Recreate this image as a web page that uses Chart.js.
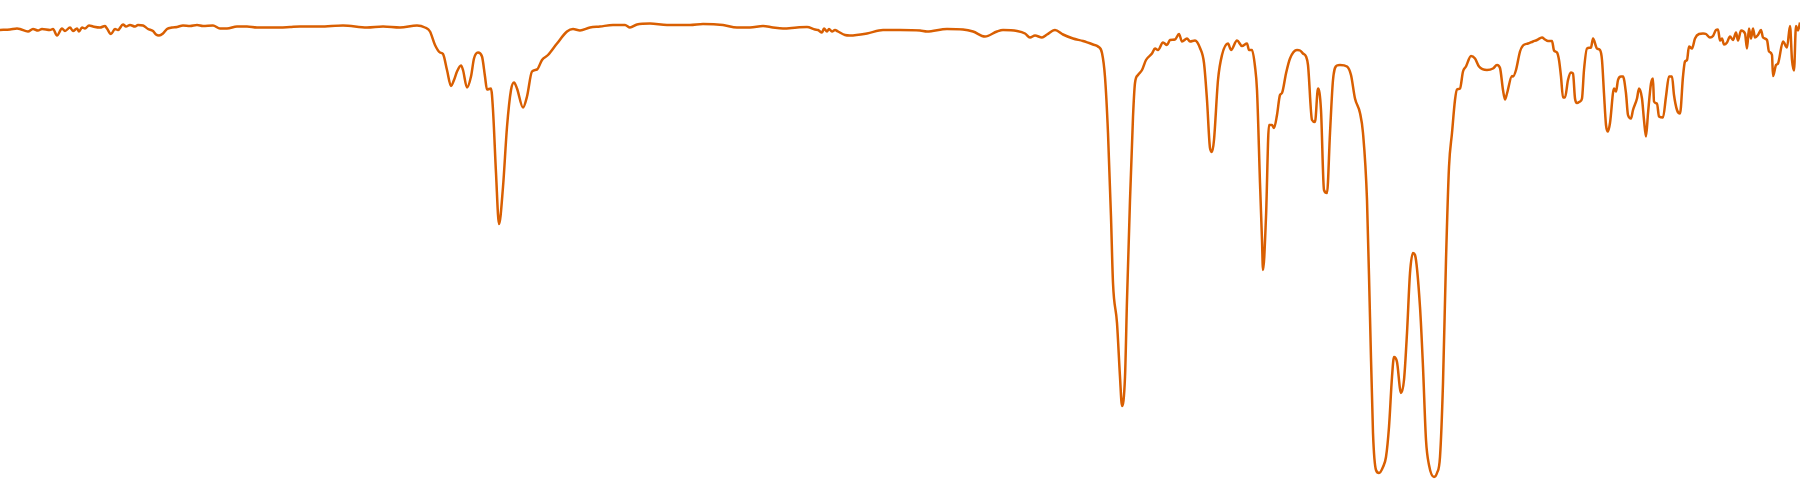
<!DOCTYPE html>
<html>
<head>
<meta charset="utf-8">
<script src="https://cdn.jsdelivr.net/npm/chart.js@4/dist/chart.umd.min.js"></script>
<style>
  html, body { margin: 0; padding: 0; background: #ffffff; }
  #wrap { width: 1800px; height: 500px; position: relative; }
</style>
</head>
<body>
<div id="wrap"><canvas id="c"></canvas></div>
<script>
// Wavenumber (cm-1), left to right
const wavenumbers = [
  4000,3980,3966,3960,3944,3934,3924,3916,3900,3894,3886,3876,3870,3860,3854,3846,3842,3836,3830,3822,
  3814,3800,3790,3786,3778,3770,3764,3754,3748,3740,3730,3724,3714,3704,3694,3688,3682,3674,3666,3656,
  3646,3634,3620,3606,3594,3574,3560,3546,3526,3506,3486,3466,3440,3420,3400,
  3360,3314,3266,3234,3200,3166,3150,3140,3130,3120,3114,3106,3098,3092,3086,3078,3074,3066,3058,3052,
  3044,3036,3030,3026,3018,3014,3008,3002,2994,2986,2978,2972,2966,2954,2946,2936,2926,2916,2904,2886,
  2866,2854,2840,2820,2800,
  2774,2750,2740,2726,2700,2666,2620,2594,2554,2526,2500,2474,2454,2434,2406,2386,2370,2364,2356,2352,
  2346,2342,2336,2330,2324,2310,2300,2266,2234,2200,
  2160,2146,2106,2074,2054,2030,2006,1994,1966,1950,1940,1930,1916,1906,1890,1874,1854,1834,1814,1804,
  1796,1790,1784,1778,1774,1766,1760,1756,1750,1746,1740,1734,1730,1724,1716,1708,1696,1690,1684,1674,
  1666,1660,1650,1642,1636,1626,1620,1610,1600,
  1592,1586,1580,1576,1572,1564,1556,1544,1538,1526,1516,1506,1502,1496,1490,1486,1480,1476,1474,1468,
  1462,1456,1452,1446,1440,1436,1428,1420,1406,1400,1394,1388,1384,1376,1370,1364,1358,1352,1346,1340,
  1334,1326,1320,1306,1298,1290,1280,1274,1266,1260,1254,1248,1242,1234,1228,1222,1216,1212,1206,1198,
  1192,1186,1180,1174,1170,1160,1154,1148,1142,1132,1126,1120,1114,1108,1102,1096,1090,1086,1080,1074,
  1068,1058,1050,1042,1026,1014,1006,1000,
  994,990,986,976,974,968,960,954,944,934,926,916,910,904,896,892,886,882,878,874,
  870,864,858,854,850,846,840,836,832,826,818,814,806,800,796,792,788,784,780,772,
  768,764,758,754,748,744,738,734,726,722,716,712,708,704,698,694,692,686,682,674,
  668,662,656,652,646,640,634,630,626,622,616,610,602,594,588,580,574,568,564,560,
  556,552,546,540,534,528,524,518,510,506,502,498,494,490,484,478,474,466,462,456,
  454,448,444,434,426,420,416,412,408,404,400
];

// Transmittance (%)
const transmittance = [
  94.0,94.1,94.3,94.2,93.7,94.2,93.9,94.2,94.0,94.2,92.9,94.3,93.8,94.5,93.8,94.3,93.7,94.5,94.3,94.9,
  94.7,94.5,94.8,94.3,93.2,94.2,94.0,95.1,94.7,95.0,94.7,95.0,94.9,94.2,93.8,93.1,92.9,93.3,94.2,94.5,
  94.6,94.9,94.8,95.0,94.8,94.9,94.3,94.3,94.7,94.7,94.5,94.5,94.5,94.6,94.7,
  94.7,94.9,94.5,94.7,94.5,94.9,94.5,93.7,91.0,89.5,89.2,86.0,82.8,84.0,85.7,86.9,86.0,82.5,84.7,88.3,
  89.5,88.7,84.7,82.1,82.3,78.0,65.4,55.2,62.6,74.6,82.0,83.5,82.3,78.5,80.7,85.7,86.1,88.0,89.0,91.3,
  93.7,94.2,93.9,94.5,94.7,
  95.0,95.0,94.5,95.1,95.3,95.0,95.0,95.2,95.0,94.5,94.5,94.8,94.5,94.3,94.5,94.6,94.1,94.0,93.5,94.3,
  93.7,94.2,93.7,94.0,93.7,93.0,92.9,93.3,94.0,94.0,
  93.9,93.7,94.2,94.1,93.7,92.7,93.7,94.0,93.8,93.3,92.5,92.9,92.5,93.1,94.0,93.1,92.3,91.8,91.1,90.7,
  89.4,84.6,73.4,56.6,43.4,35.4,24.6,18.8,24.6,40.0,60.0,76.6,83.4,85.0,86.0,88.0,89.3,90.3,90.0,91.5,
  91.0,92.0,92.1,93.2,91.7,92.3,91.7,91.9,90.4,
  87.4,80.0,70.4,69.6,72.0,84.0,89.0,91.3,90.0,91.9,90.8,91.3,90.0,90.0,86.7,82.0,63.4,52.0,46.0,56.6,
  75.0,75.0,74.4,77.0,81.0,81.4,85.3,88.3,90.0,89.9,89.3,88.7,87.0,76.0,75.6,82.3,78.0,62.0,61.4,73.4,
  84.0,86.9,87.0,86.7,85.0,80.3,77.4,73.4,60.0,36.6,13.4,6.0,5.4,6.6,8.6,14.6,24.6,28.6,27.6,21.4,
  24.0,33.4,45.4,49.4,49.0,38.6,26.6,12.0,7.0,4.6,5.4,8.6,23.4,48.0,66.6,73.4,80.0,82.1,82.3,85.7,
  86.7,88.8,88.3,86.7,86.0,86.3,87.0,86.4,
  82.0,80.1,81.3,84.8,84.7,86.0,89.7,90.9,91.3,91.7,92.0,92.5,92.1,91.8,91.8,89.9,89.5,88.0,84.7,80.5,
  80.5,84.0,85.5,85.3,80.3,79.4,79.7,80.3,86.0,90.3,90.5,92.3,90.3,90.0,88.0,81.3,75.0,73.7,75.4,82.3,
  81.7,84.0,84.7,84.7,81.3,77.0,76.3,78.0,80.3,82.3,80.3,76.0,72.7,77.3,83.3,84.3,79.7,79.3,76.7,76.5,
  80.7,84.7,84.7,81.0,78.0,77.3,84.7,87.7,88.0,90.7,90.3,92.3,93.2,93.3,93.2,92.5,92.8,94.0,94.1,91.9,
  92.3,91.1,91.5,92.7,92.0,93.5,91.9,93.9,93.3,90.3,94.3,92.3,94.3,92.5,93.0,94.0,92.5,92.0,89.7,89.0,
  84.8,87.0,87.3,91.7,90.5,94.8,88.0,85.9,94.8,93.9,95.5
];

const points = wavenumbers.map((w, i) => ({ x: w, y: transmittance[i] }));

new Chart(document.getElementById('c'), {
  type: 'line',
  data: {
    datasets: [{
      label: 'Transmittance',
      data: points,
      borderColor: '#d95f02',
      backgroundColor: '#d95f02',
      borderWidth: 2.5,
      pointRadius: 0,
      fill: false,
      cubicInterpolationMode: 'monotone'
    }]
  },
  options: {
    responsive: true,
    maintainAspectRatio: false,
    animation: false,
    layout: { padding: 0 },
    plugins: { legend: { display: false }, tooltip: { enabled: false } },
    scales: {
      x: { type: 'linear', reverse: true, min: 400, max: 4000, display: false },
      y: { min: 0, max: 100, display: false }
    }
  }
});
</script>
</body>
</html>
